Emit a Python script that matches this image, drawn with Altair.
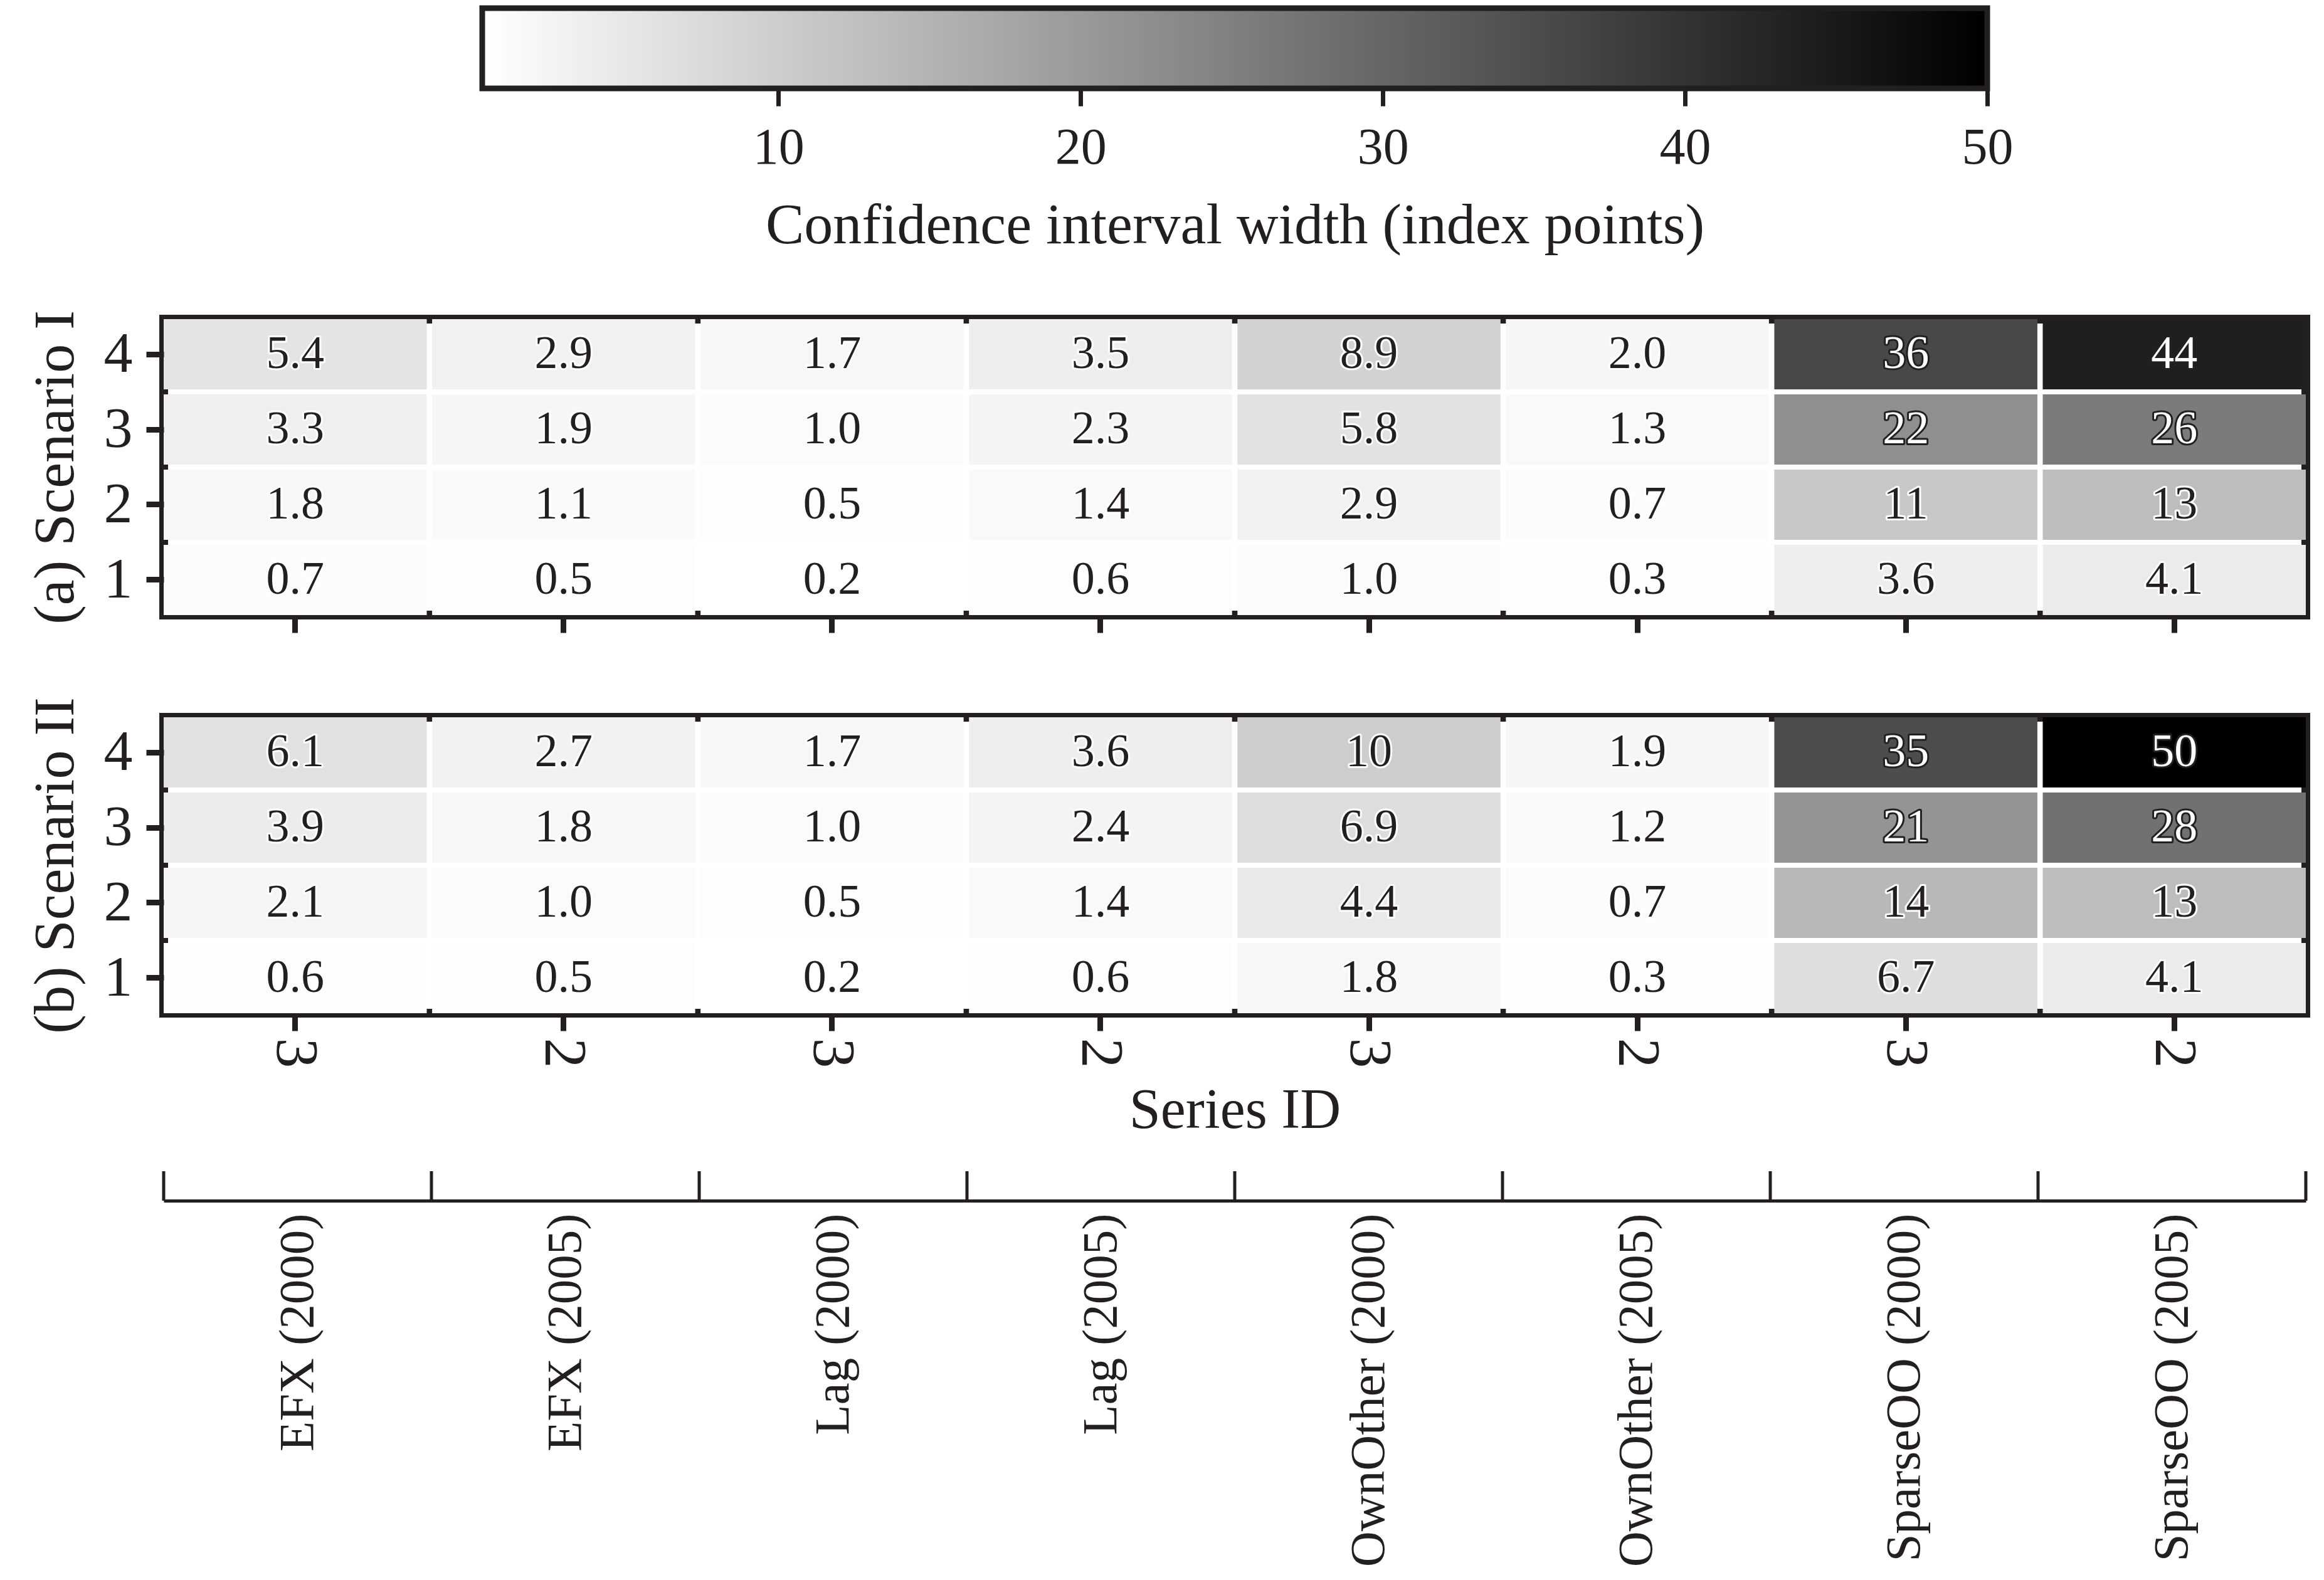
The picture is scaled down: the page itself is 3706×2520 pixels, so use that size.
import altair as alt
import pandas as pd

# ---------------- data ----------------
models = ["EFX (2000)", "EFX (2005)", "Lag (2000)", "Lag (2005)",
          "OwnOther (2000)", "OwnOther (2005)", "SparseOO (2000)", "SparseOO (2005)"]
series_id = ["3", "2", "3", "2", "3", "2", "3", "2"]

# Scenario I, rows 4 (top) .. 1 (bottom)
s1_row4 = [5.4, 2.9, 1.7, 3.5, 8.9, 2.0, 36, 44]
s1_row3 = [3.3, 1.9, 1.0, 2.3, 5.8, 1.3, 22, 26]
s1_row2 = [1.8, 1.1, 0.5, 1.4, 2.9, 0.7, 11, 13]
s1_row1 = [0.7, 0.5, 0.2, 0.6, 1.0, 0.3, 3.6, 4.1]

# Scenario II
s2_row4 = [6.1, 2.7, 1.7, 3.6, 10, 1.9, 35, 50]
s2_row3 = [3.9, 1.8, 1.0, 2.4, 6.9, 1.2, 21, 28]
s2_row2 = [2.1, 1.0, 0.5, 1.4, 4.4, 0.7, 14, 13]
s2_row1 = [0.6, 0.5, 0.2, 0.6, 1.8, 0.3, 6.7, 4.1]

cb_min, cb_max = 0.2, 50.0
cb_ticks = [10, 20, 30, 40, 50]

INK = "#231f20"
FONT = "Liberation Serif"
W = 3416
H = 472


def frame(rows):
    recs = []
    for r, vals in rows.items():
        for m, v in zip(models, vals):
            recs.append({"model": m, "row": r, "value": v})
    return pd.DataFrame(recs)


df1 = frame({4: s1_row4, 3: s1_row3, 2: s1_row2, 1: s1_row1})
df2 = frame({4: s2_row4, 3: s2_row3, 2: s2_row2, 1: s2_row1})

color_scale = alt.Scale(domain=[cb_min, cb_max], range=["#ffffff", "#000000"],
                        interpolate="rgb")

models_js = "[" + ",".join("'" + m + "'" for m in models) + "]"
ids_js = "[" + ",".join("'" + s + "'" for s in series_id) + "]"
id_expr = ids_js + "[indexof(" + models_js + ", datum.value)]"


def heat(df, ytitle, bottom):
    if bottom:
        xaxis = alt.Axis(title="Series ID", labelExpr=id_expr, labelAngle=90,
                         labelFontSize=96, labelPadding=11, titleFontSize=90,
                         titlePadding=24, tickSize=28, tickWidth=9, domain=False,
                         grid=False)
    else:
        xaxis = alt.Axis(title=None, labels=False, tickSize=28, tickWidth=9,
                         domain=False, grid=False)
    yaxis = alt.Axis(title=ytitle, labelAngle=0, labelFontSize=92, labelPadding=22,
                     tickSize=28, tickWidth=9, domain=False, grid=False,
                     titleFontSize=92, titlePadding=30)
    base = alt.Chart(df).transform_calculate(
        label="datum.value < 10 ? format(datum.value, '.1f') : format(datum.value, '.0f')"
    ).encode(
        x=alt.X("model:N", sort=models,
                scale=alt.Scale(paddingInner=0.02, paddingOuter=0), axis=xaxis),
        y=alt.Y("row:O", sort="descending",
                scale=alt.Scale(paddingInner=0.066, paddingOuter=0), axis=yaxis),
    )
    rect = base.mark_rect().encode(
        color=alt.Color("value:Q", scale=color_scale, legend=None))
    dark = alt.datum.value > 17
    halo = base.mark_text(font=FONT, fontSize=74, strokeWidth=6, strokeJoin="round").encode(
        text="label:N",
        color=alt.when(dark).then(alt.value(INK)).otherwise(alt.value("white")),
        stroke=alt.when(dark).then(alt.value(INK)).otherwise(alt.value("white")),
    )
    txt = base.mark_text(font=FONT, fontSize=74).encode(
        text="label:N",
        color=alt.when(dark).then(alt.value("white")).otherwise(alt.value(INK)),
    )
    return alt.layer(rect, halo, txt).properties(
        width=W, height=H,
        view=alt.ViewBackground(stroke=INK, strokeWidth=14))


heat_a = heat(df1, "(a) Scenario I", False)
heat_b = heat(df2, "(b) Scenario II", True)

# ---------------- colour bar ----------------
cb_df = pd.DataFrame({"lo": [cb_min], "hi": [cb_max]})
grad = alt.Gradient(
    gradient="linear",
    stops=[alt.GradientStop(color="#ffffff", offset=0),
           alt.GradientStop(color="#000000", offset=1)],
    x1=0, x2=1, y1=0, y2=0)
colorbar = alt.Chart(cb_df).mark_rect(fill=grad, stroke=INK, strokeWidth=9).encode(
    x=alt.X("lo:Q",
            scale=alt.Scale(domain=[cb_min, cb_max], padding=508, nice=False, zero=False),
            axis=alt.Axis(values=cb_ticks, title="Confidence interval width (index points)",
                          domain=False, grid=False, tickSize=28, tickWidth=7,
                          labelFontSize=82, labelPadding=26, titleFontSize=92,
                          titlePadding=38)),
    x2="hi:Q",
).properties(width=W, height=128, view=alt.ViewBackground(strokeWidth=0))

# ---------------- bracket axis with model names ----------------
edges_df = pd.DataFrame({"edge": list(range(len(models) + 1))})
name_expr = models_js + "[floor(datum.value)]"
bracket = alt.Chart(edges_df).mark_rule(color=INK, strokeWidth=5).encode(
    x=alt.X("edge:Q", scale=alt.Scale(domain=[0, len(models)], nice=False, zero=False),
            axis=alt.Axis(values=[i + 0.5 for i in range(len(models))],
                          labelExpr=name_expr, ticks=False, domain=True, domainWidth=5,
                          grid=False, labelAngle=-90, labelFontSize=79, labelPadding=20,
                          labelOverlap=False, labelFlush=False, labelLimit=2000,
                          title=None)),
).properties(width=W, height=47, view=alt.ViewBackground(strokeWidth=0))

top_part = alt.vconcat(colorbar, heat_a, spacing=82)
bottom_part = alt.vconcat(heat_b, bracket, spacing=42)

chart = alt.vconcat(top_part, bottom_part, spacing=83).properties(
    padding={"left": 26, "top": 0, "right": 8, "bottom": 0}
).configure(font=FONT).configure_axis(
    labelFont=FONT, titleFont=FONT, labelColor=INK, titleColor=INK,
    titleFontWeight="normal", tickColor=INK, domainColor=INK
).configure_view(stroke="transparent")

chart.save("out.html", embed_options={"renderer": "svg", "actions": False})
